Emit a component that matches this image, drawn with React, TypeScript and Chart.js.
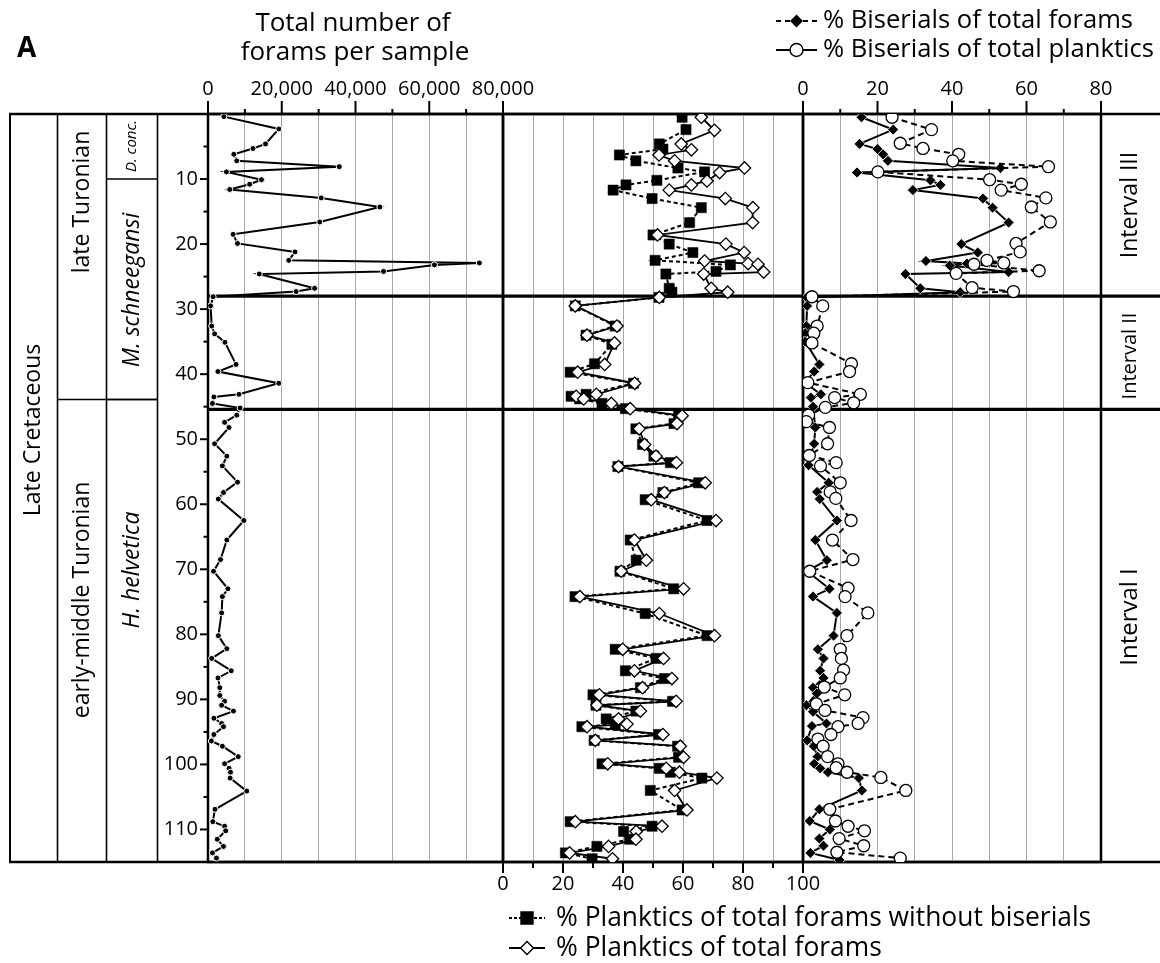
import React, { useEffect, useRef } from "react";
import { Chart, registerables } from "chart.js";
Chart.register(...registerables);

const FONT = "'Open Sans', 'Noto Sans', sans-serif";

// ---------------- data ----------------
const depthMax = 115;
const depthTicks = [10, 20, 30, 40, 50, 60, 70, 80, 90, 100, 110];
const foramTicks = [0, 20000, 40000, 60000, 80000];
const plankTicks = [0, 20, 40, 60, 80, 100];
const bisTicks = [0, 20, 40, 60, 80];

const intervalDepths = [28.0, 45.4];
const zoneBoundaries = [10.0, 43.9];
const stageBoundaries = [43.9];

// Total number of forams per sample
const foramDepth = [0.4, 2.3, 4.6, 5.3, 6.2, 7.2, 8.1, 8.9, 10.1, 10.8, 11.6, 12.9, 14.3, 16.6, 18.5, 19.9, 21.2, 22.5, 22.9, 23.2, 24.2, 24.6, 26.8, 27.3, 28.1, 29.5, 32.6, 33.8, 35.1, 38.5, 39.6, 41.4, 43.1, 43.5, 44.5, 45.2, 46.3, 47.4, 48.2, 50.7, 52.6, 54.1, 56.6, 58.2, 59.2, 62.5, 65.5, 68.5, 70.3, 73.0, 74.2, 76.7, 80.2, 82.2, 83.7, 85.6, 86.7, 88.2, 89.4, 90.3, 90.9, 91.8, 92.9, 93.7, 94.2, 95.4, 96.4, 97.2, 98.8, 99.9, 100.6, 101.2, 102.1, 104.1, 106.9, 108.8, 109.5, 110.2, 111.5, 112.6, 113.6, 114.4];
const foramCount = [4300, 19200, 15600, 12200, 7000, 7800, 35600, 5000, 14500, 11300, 5900, 30700, 46600, 30300, 6800, 8000, 23600, 21900, 73600, 61400, 47600, 13900, 28900, 23900, 1400, 700, 1000, 1800, 4600, 7600, 2700, 19200, 8400, 1600, 1200, 8700, 7800, 4500, 5700, 1800, 5100, 3900, 8000, 4200, 2800, 9700, 5100, 3400, 1500, 5400, 3900, 3700, 2800, 5100, 1000, 6300, 2700, 3200, 3200, 4500, 3700, 6900, 1600, 3700, 4200, 1600, 900, 3900, 8200, 4500, 5700, 6100, 6000, 10500, 1900, 1300, 4500, 4800, 2500, 4200, 1200, 2300];

// % Planktics of total forams (open diamonds)
const plankTotDepth = [0.5, 2.5, 4.6, 5.5, 6.3, 7.2, 8.3, 9.0, 10.3, 10.9, 11.7, 13.0, 14.4, 16.7, 18.6, 20.0, 21.3, 22.6, 23.0, 23.1, 24.3, 24.6, 26.8, 27.4, 28.2, 29.5, 32.6, 34.0, 35.2, 38.5, 39.7, 41.4, 43.1, 43.4, 43.8, 44.5, 45.3, 46.4, 47.6, 48.4, 50.8, 52.6, 53.6, 54.2, 56.7, 58.2, 59.3, 62.5, 65.5, 68.6, 70.3, 73.0, 74.2, 76.8, 80.2, 82.3, 83.7, 85.6, 86.8, 88.2, 89.3, 90.3, 90.9, 91.8, 93.0, 93.8, 94.2, 95.4, 96.3, 97.2, 98.9, 99.9, 100.6, 101.2, 102.1, 104.0, 107.0, 108.8, 109.5, 110.3, 111.5, 112.6, 113.6, 114.5];
const plankTot = [66.1, 70.5, 59.4, 62.8, 52.0, 57.2, 80.5, 72.2, 68.0, 62.8, 55.4, 74.1, 83.3, 83.2, 51.5, 74.3, 80.4, 67.2, 81.7, 85.0, 86.9, 66.9, 69.4, 74.9, 52.1, 24.1, 38.0, 28.0, 37.2, 33.9, 24.9, 43.9, 31.1, 24.4, 26.9, 36.1, 42.4, 59.7, 58.0, 45.4, 47.2, 51.0, 57.8, 38.5, 67.4, 53.8, 49.4, 71.0, 43.8, 47.8, 39.4, 60.2, 25.6, 52.1, 70.5, 39.9, 53.5, 43.8, 56.3, 46.5, 32.1, 57.7, 31.3, 45.8, 38.5, 41.3, 28.0, 53.3, 30.8, 59.1, 60.2, 34.9, 54.4, 58.8, 71.3, 57.2, 61.3, 24.1, 53.0, 44.4, 44.3, 35.2, 22.2, 36.5];

// % Planktics of total forams without biserials (filled squares)
const plankNoBisDepth = [0.5, 2.4, 4.6, 5.4, 6.3, 7.2, 8.3, 8.9, 10.2, 10.9, 11.7, 13.0, 14.4, 16.7, 18.6, 20.0, 21.3, 22.5, 23.2, 24.2, 24.6, 26.8, 27.4, 28.2, 29.5, 32.6, 34.0, 35.4, 38.4, 39.7, 41.4, 43.1, 43.4, 43.8, 44.5, 45.3, 46.4, 47.6, 48.4, 50.8, 52.6, 53.6, 54.2, 56.7, 58.2, 59.3, 62.5, 65.5, 68.6, 70.3, 73.0, 74.2, 76.8, 80.2, 82.3, 83.7, 85.6, 86.8, 88.2, 89.3, 90.3, 90.9, 91.8, 93.0, 93.8, 94.2, 95.4, 96.3, 97.2, 98.9, 99.9, 100.6, 101.2, 102.1, 104.0, 107.0, 108.8, 109.5, 110.3, 111.5, 112.6, 113.6, 114.5];
const plankNoBis = [59.7, 61.0, 52.1, 53.3, 38.8, 44.3, 58.3, 67.2, 51.3, 41.0, 36.7, 49.7, 66.1, 62.2, 50.0, 55.4, 63.3, 50.7, 75.8, 71.0, 54.3, 55.4, 56.3, 52.0, 24.1, 37.4, 27.7, 36.3, 30.5, 22.4, 43.5, 27.7, 22.7, 25.5, 33.0, 40.8, 58.5, 57.0, 44.3, 46.5, 50.3, 55.8, 38.3, 65.2, 53.3, 47.4, 68.0, 42.4, 44.4, 39.0, 56.9, 24.0, 47.4, 68.0, 37.4, 51.0, 40.8, 53.8, 45.8, 30.0, 56.5, 31.0, 44.3, 34.4, 37.4, 26.3, 51.9, 30.4, 58.2, 58.5, 33.0, 52.1, 55.8, 66.3, 49.1, 59.7, 22.4, 49.7, 40.2, 42.2, 31.3, 20.8, 29.7];

// % Biserials of total forams (filled diamonds)
const bisTotDepth = [0.5, 2.4, 4.6, 5.4, 6.2, 7.2, 8.3, 9.0, 10.2, 10.9, 11.7, 13.0, 14.4, 16.7, 20.0, 21.3, 22.6, 23.0, 23.3, 24.3, 24.6, 26.8, 27.4, 28.2, 29.5, 32.6, 33.7, 35.0, 38.5, 39.6, 41.3, 43.1, 43.6, 45.0, 48.2, 50.7, 54.0, 56.7, 58.1, 59.2, 62.5, 65.5, 68.6, 70.3, 73.0, 74.2, 76.7, 80.2, 82.3, 83.7, 85.6, 86.7, 88.2, 89.1, 90.9, 91.9, 93.7, 94.1, 96.3, 97.2, 98.8, 99.9, 100.6, 101.2, 102.1, 104.0, 106.9, 108.7, 110.0, 111.4, 112.5, 113.6, 114.7];
const bisTot = [15.7, 24.2, 15.2, 20.0, 21.5, 22.8, 53.0, 14.5, 34.2, 36.9, 29.5, 48.3, 50.9, 55.2, 42.5, 46.9, 33.0, 44.0, 39.4, 55.2, 27.5, 31.5, 42.2, 1.0, 1.1, 0.9, 0.6, 0.6, 4.4, 3.0, 0.5, 4.8, 2.1, 2.7, 3.3, 3.0, 1.5, 6.9, 3.8, 4.5, 9.1, 3.3, 6.4, 1.1, 7.1, 2.7, 9.1, 8.2, 4.0, 5.5, 4.6, 5.5, 2.7, 3.7, 0.9, 2.7, 6.3, 2.4, 1.1, 2.9, 3.9, 3.0, 4.6, 6.7, 15.0, 15.8, 4.4, 1.8, 7.2, 4.4, 5.5, 2.0, 9.8];

// % Biserials of total planktics (open circles)
const bisPlankDepth = [0.5, 2.4, 4.5, 5.3, 6.2, 7.2, 8.1, 8.9, 10.1, 10.8, 11.7, 12.9, 14.3, 16.6, 19.9, 21.2, 22.5, 22.9, 23.1, 24.1, 24.5, 26.7, 27.3, 28.1, 29.5, 32.6, 33.7, 35.2, 38.4, 39.6, 41.3, 43.1, 43.6, 44.4, 45.1, 46.3, 47.3, 48.2, 50.7, 52.5, 53.6, 54.1, 56.7, 58.1, 59.1, 62.5, 65.5, 68.5, 70.3, 72.9, 74.2, 76.7, 80.2, 82.3, 83.7, 85.5, 86.7, 88.1, 89.3, 90.7, 91.7, 92.8, 93.7, 94.2, 95.4, 96.1, 97.2, 98.8, 99.9, 100.5, 101.2, 102.0, 104.0, 106.9, 108.7, 109.5, 110.2, 111.4, 112.5, 113.5, 114.4];
const bisPlank = [23.9, 34.5, 26.1, 32.2, 41.8, 40.2, 65.9, 20.1, 50.1, 58.6, 53.2, 65.2, 61.3, 66.4, 57.2, 58.3, 49.4, 53.9, 45.9, 63.4, 41.1, 45.4, 56.5, 2.4, 5.3, 3.8, 2.9, 2.4, 13.0, 12.5, 1.3, 15.4, 8.5, 13.6, 6.0, 1.5, 0.9, 7.1, 6.6, 1.7, 8.9, 4.7, 10.0, 7.3, 8.8, 12.9, 7.9, 13.4, 1.8, 12.1, 11.3, 17.4, 11.8, 10.0, 10.3, 10.9, 10.0, 5.7, 11.2, 3.6, 5.9, 16.1, 14.8, 9.4, 7.5, 4.0, 5.4, 6.6, 9.4, 8.9, 11.8, 20.9, 27.6, 7.2, 8.7, 12.1, 16.5, 9.7, 16.3, 9.1, 26.1];

// ---------------- layout ----------------
const W = 1160, H = 963;
const TOP = 114, BOT = 862;
const XA = 208, XB = 503, XC = 803, XD = 1101, XEND = 1160;
const STRAT_X = [10, 57.5, 106.5, 157.5];

const pts = (ys: number[], xs: number[]) => ys.map((y, i) => ({ x: xs[i], y }));
const mids = (t: number[]) => t.slice(0, -1).map((v, i) => (v + t[i + 1]) / 2);
const fmt = (v: number) => String(v).replace(/\B(?=(\d{3})+(?!\d))/g, ",");

function hl(ctx: CanvasRenderingContext2D, x1: number, x2: number, y: number, w: number) {
  ctx.beginPath(); ctx.moveTo(x1, y); ctx.lineTo(x2, y);
  ctx.lineWidth = w; ctx.strokeStyle = "#000"; ctx.setLineDash([]); ctx.stroke();
}
function vl(ctx: CanvasRenderingContext2D, x: number, y1: number, y2: number, w: number) {
  ctx.beginPath(); ctx.moveTo(x, y1); ctx.lineTo(x, y2);
  ctx.lineWidth = w; ctx.strokeStyle = "#000"; ctx.setLineDash([]); ctx.stroke();
}
function txt(ctx: CanvasRenderingContext2D, s: string, x: number, y: number, size: number,
  o: { align?: CanvasTextAlign; rot?: boolean; italic?: boolean; bold?: boolean } = {}) {
  ctx.save();
  ctx.font = `${o.italic ? "italic " : ""}${o.bold ? "bold " : ""}${size}px ${FONT}`;
  ctx.fillStyle = "#000";
  ctx.textAlign = o.align || "center";
  ctx.textBaseline = "middle";
  ctx.translate(x, y);
  if (o.rot) ctx.rotate(-Math.PI / 2);
  ctx.fillText(s, 0, 0);
  ctx.restore();
}
function marker(ctx: CanvasRenderingContext2D, kind: string, x: number, y: number, r: number) {
  ctx.beginPath();
  if (kind === "diamond") {
    ctx.moveTo(x - r, y); ctx.lineTo(x, y - r); ctx.lineTo(x + r, y); ctx.lineTo(x, y + r); ctx.closePath();
  } else if (kind === "circle") {
    ctx.arc(x, y, r, 0, Math.PI * 2);
  } else {
    ctx.rect(x - r, y - r, 2 * r, 2 * r);
  }
}
function legendItem(ctx: CanvasRenderingContext2D, x1: number, x2: number, y: number, dash: number[],
  kind: string, filled: boolean, r: number, label: string, tx: number, size: number) {
  ctx.save();
  ctx.beginPath(); ctx.moveTo(x1, y); ctx.lineTo(x2, y);
  ctx.setLineDash(dash); ctx.lineWidth = 1.8; ctx.strokeStyle = "#000"; ctx.stroke();
  ctx.setLineDash([]);
  marker(ctx, kind, (x1 + x2) / 2, y, r);
  ctx.fillStyle = filled ? "#000" : "#fff"; ctx.fill();
  ctx.lineWidth = 1.4; ctx.stroke();
  ctx.restore();
  txt(ctx, label, tx, y, size, { align: "left" });
}

function panelFrame(chart: any, x1: number, x2: number) {
  const ctx = chart.ctx as CanvasRenderingContext2D;
  const y = chart.scales.y;
  ctx.save();
  for (const d of intervalDepths) hl(ctx, x1, x2, y.getPixelForValue(d), 3.2);
  hl(ctx, x1 - 1, x2 + 1, TOP, 2.5);
  hl(ctx, x1 - 1, x2 + 1, BOT, 2.5);
  vl(ctx, x1, TOP, BOT, 2.5);
  vl(ctx, x2, TOP, BOT, 2.5);
  ctx.restore();
}
function xTicks(chart: any, major: number[], minor: number[], top: boolean, lMaj: number, lMin: number) {
  const ctx = chart.ctx as CanvasRenderingContext2D;
  const s = chart.scales.x;
  const y0 = top ? TOP : BOT;
  const dir = top ? -1 : 1;
  ctx.save();
  for (const v of major) vl(ctx, s.getPixelForValue(v), y0, y0 + dir * lMaj, 2);
  for (const v of minor) vl(ctx, s.getPixelForValue(v), y0, y0 + dir * lMin, 2);
  ctx.restore();
}

const decorA = {
  id: "decorA",
  beforeDatasetsDraw(chart: any) {
    const ctx = chart.ctx as CanvasRenderingContext2D;
    const y = chart.scales.y;
    ctx.save();
    hl(ctx, STRAT_X[0] - 1, XEND, TOP, 2.5);
    hl(ctx, STRAT_X[0] - 1, XEND, BOT, 2.5);
    vl(ctx, STRAT_X[0], TOP, BOT, 2);
    vl(ctx, STRAT_X[1], TOP, BOT, 1.6);
    vl(ctx, STRAT_X[2], TOP, BOT, 1.6);
    vl(ctx, STRAT_X[3], TOP, BOT, 1.6);
    for (const d of stageBoundaries) hl(ctx, STRAT_X[1], STRAT_X[3], y.getPixelForValue(d), 1.6);
    for (const d of zoneBoundaries) hl(ctx, STRAT_X[2], STRAT_X[3], y.getPixelForValue(d), 1.6);
    for (const d of intervalDepths) hl(ctx, XD, XEND, y.getPixelForValue(d), 3.2);
    ctx.restore();
    panelFrame(chart, XA, XB);
  },
  afterDraw(chart: any) {
    const ctx = chart.ctx as CanvasRenderingContext2D;
    const y = chart.scales.y;
    xTicks(chart, foramTicks, mids(foramTicks), true, 13, 5);
    ctx.save();
    for (const v of depthTicks) hl(ctx, XA, XA - 8, y.getPixelForValue(v), 2);
    for (const v of [5, ...depthTicks.map((d) => d + 5)].filter((d) => d < depthMax)) hl(ctx, XA, XA - 4.5, y.getPixelForValue(v), 2);
    ctx.restore();

    // header texts
    txt(ctx, "A", 17, 49, 28, { align: "left", bold: true });
    txt(ctx, "Total number of", 353, 24, 26);
    txt(ctx, "forams per sample", 355, 53, 26);

    // stratigraphic columns
    const c1 = (STRAT_X[0] + STRAT_X[1]) / 2, c2 = (STRAT_X[1] + STRAT_X[2]) / 2, c3 = (STRAT_X[2] + STRAT_X[3]) / 2;
    txt(ctx, "Late Cretaceous", c1, 430, 23, { rot: true });
    txt(ctx, "late Turonian", c2, 202, 23, { rot: true });
    txt(ctx, "early-middle Turonian", c2, 600, 23, { rot: true });
    txt(ctx, "D. conc.", c3, 146, 15, { rot: true, italic: true });
    txt(ctx, "M. schneegansi", c3, 290, 23, { rot: true, italic: true });
    txt(ctx, "H. helvetica", c3, 570, 23, { rot: true, italic: true });

    // interval column
    const ci = (XD + XEND) / 2;
    txt(ctx, "Interval III", ci, 205, 23, { rot: true });
    txt(ctx, "Interval II", ci, 356, 20, { rot: true });
    txt(ctx, "Interval I", ci, 617, 24, { rot: true });

    // legends
    legendItem(ctx, 776, 817, 21, [5, 4], "diamond", true, 5.5, "% Biserials of total forams", 823, 25.6);
    legendItem(ctx, 776, 817, 50, [], "circle", false, 6.5, "% Biserials of total planktics", 823, 25.6);
    legendItem(ctx, 509, 545, 918, [3, 2], "square", true, 6, "% Planktics of total forams without biserials", 556, 26.4);
    legendItem(ctx, 509, 545, 948, [], "diamond", false, 6.5, "% Planktics of total forams", 556, 26.4);
  },
};

const decorB = {
  id: "decorB",
  beforeDatasetsDraw(chart: any) { panelFrame(chart, XB, XC); },
  afterDraw(chart: any) { xTicks(chart, plankTicks, mids(plankTicks), false, 11, 6); },
};
const decorC = {
  id: "decorC",
  beforeDatasetsDraw(chart: any) { panelFrame(chart, XC, XD); },
  afterDraw(chart: any) { xTicks(chart, bisTicks, mids(bisTicks), true, 13, 5); },
};

const GRID = "#a8a8a8";
const TICKFONT = { size: 20, family: FONT };
const AXH = 40, AXW = 50;

function baseOptions(padding: any, scales: any) {
  return {
    responsive: false,
    animation: false as const,
    events: [] as any[],
    layout: { padding },
    plugins: { legend: { display: false }, tooltip: { enabled: false }, title: { display: false } },
    elements: { line: { tension: 0 } },
    scales,
  };
}
const hiddenY = { type: "linear", display: false, reverse: true, min: 0, max: depthMax };

export default function App() {
  const refA = useRef<HTMLCanvasElement>(null);
  const refB = useRef<HTMLCanvasElement>(null);
  const refC = useRef<HTMLCanvasElement>(null);

  useEffect(() => {
    Chart.defaults.font.family = FONT;
    Chart.defaults.color = "#000";

    const chartA = new Chart(refA.current as HTMLCanvasElement, {
      type: "line",
      data: {
        datasets: [{
          data: pts(foramDepth, foramCount),
          borderColor: "#000", borderWidth: 2,
          pointRadius: 3, pointBackgroundColor: "#000", pointBorderColor: "#fff", pointBorderWidth: 1,
        }],
      },
      options: baseOptions(
        { left: XA - AXW, right: W - XB, top: TOP - AXH, bottom: H - BOT },
        {
          x: {
            type: "linear", position: "top", min: 0, max: 80000,
            afterFit: (s: any) => { s.height = AXH; },
            ticks: { stepSize: 10000, autoSkip: false, maxRotation: 0, padding: 13, font: TICKFONT, color: "#000",
              callback: (v: any) => (foramTicks.includes(v) ? fmt(v) : "") },
            grid: { color: GRID, lineWidth: 1, drawTicks: false },
            border: { display: false },
          },
          y: {
            type: "linear", reverse: true, min: 0, max: depthMax,
            afterFit: (s: any) => { s.width = AXW; },
            ticks: { stepSize: 10, autoSkip: false, padding: 10, font: TICKFONT, color: "#000",
              callback: (v: any) => (depthTicks.includes(v) ? String(v) : "") },
            grid: { display: false, drawTicks: false },
            border: { display: false },
          },
        }
      ) as any,
      plugins: [decorA],
    } as any);

    const chartB = new Chart(refB.current as HTMLCanvasElement, {
      type: "line",
      data: {
        datasets: [
          {
            data: pts(plankTotDepth, plankTot),
            borderColor: "#000", borderWidth: 1.8,
            pointStyle: "rectRot", pointRadius: 6.2, pointBackgroundColor: "#fff", pointBorderColor: "#000", pointBorderWidth: 1.3,
          },
          {
            data: pts(plankNoBisDepth, plankNoBis),
            borderColor: "#000", borderWidth: 2, borderDash: [4, 3],
            pointStyle: "rect", pointRadius: 7.2, pointBackgroundColor: "#000", pointBorderColor: "#000", pointBorderWidth: 0.5,
          },
        ],
      },
      options: baseOptions(
        { left: XB, right: W - XC, top: TOP, bottom: H - BOT - AXH },
        {
          x: {
            type: "linear", position: "bottom", min: 0, max: 100,
            afterFit: (s: any) => { s.height = AXH; },
            ticks: { stepSize: 10, autoSkip: false, maxRotation: 0, padding: 10, font: TICKFONT, color: "#000",
              callback: (v: any) => (plankTicks.includes(v) ? String(v) : "") },
            grid: { color: GRID, lineWidth: 1, drawTicks: false },
            border: { display: false },
          },
          y: hiddenY,
        }
      ) as any,
      plugins: [decorB],
    } as any);

    const chartC = new Chart(refC.current as HTMLCanvasElement, {
      type: "line",
      data: {
        datasets: [
          {
            data: pts(bisPlankDepth, bisPlank),
            borderColor: "#000", borderWidth: 2, borderDash: [6, 4],
            pointStyle: "circle", pointRadius: 6, pointBackgroundColor: "#fff", pointBorderColor: "#000", pointBorderWidth: 1.3,
          },
          {
            data: pts(bisTotDepth, bisTot),
            borderColor: "#000", borderWidth: 2,
            pointStyle: "rectRot", pointRadius: 5.5, pointBackgroundColor: "#000", pointBorderColor: "#fff", pointBorderWidth: 0.8,
          },
        ],
      },
      options: baseOptions(
        { left: XC, right: W - XD, top: TOP - AXH, bottom: H - BOT },
        {
          x: {
            type: "linear", position: "top", min: 0, max: 80,
            afterFit: (s: any) => { s.height = AXH; },
            ticks: { stepSize: 10, autoSkip: false, maxRotation: 0, padding: 13, font: TICKFONT, color: "#000",
              callback: (v: any) => (bisTicks.includes(v) ? String(v) : "") },
            grid: { color: GRID, lineWidth: 1, drawTicks: false },
            border: { display: false },
          },
          y: hiddenY,
        }
      ) as any,
      plugins: [decorC],
    } as any);

    return () => { chartA.destroy(); chartB.destroy(); chartC.destroy(); };
  }, []);

  const cs: React.CSSProperties = { position: "absolute", left: 0, top: 0, width: W, height: H };
  return (
    <div style={{ position: "absolute", left: 0, top: 0, width: W, height: H, background: "#fff", overflow: "hidden" }}>
      <canvas ref={refA} width={W} height={H} style={cs} />
      <canvas ref={refB} width={W} height={H} style={cs} />
      <canvas ref={refC} width={W} height={H} style={cs} />
    </div>
  );
}
